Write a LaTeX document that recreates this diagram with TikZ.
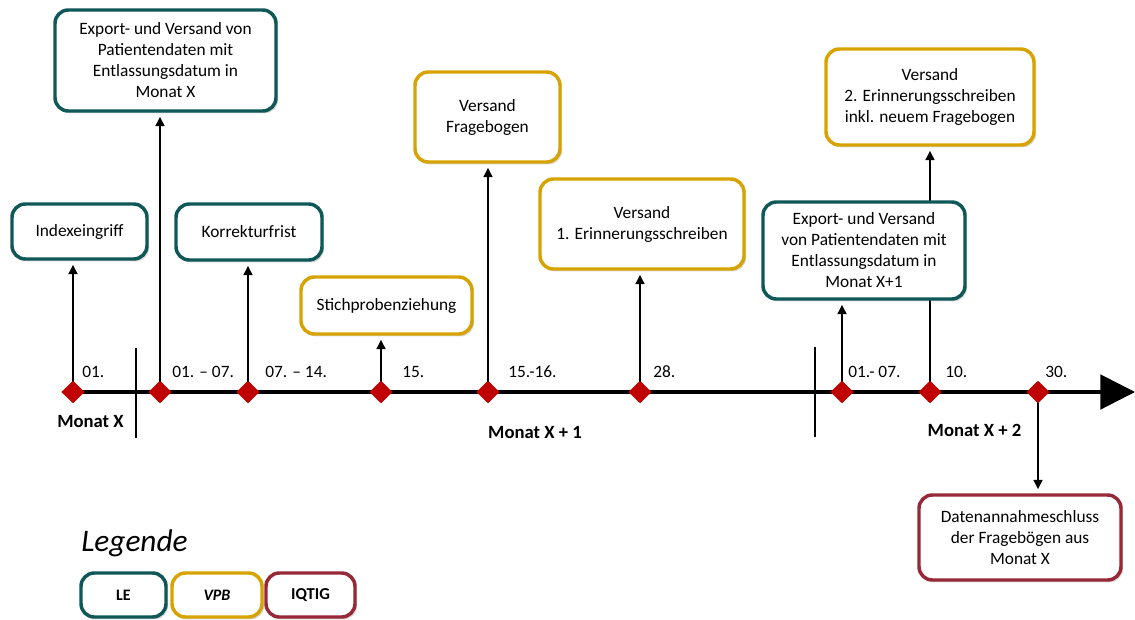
\documentclass[tikz,border=0pt]{standalone}
\usepackage{fontspec}
\setmainfont{Carlito}
\usetikzlibrary{shadows,arrows.meta,shapes.geometric}
\definecolor{leC}{RGB}{16,88,88}
\definecolor{vpbC}{RGB}{214,163,0}
\definecolor{iqC}{RGB}{150,40,56}
\definecolor{diaC}{RGB}{192,0,0}
\pgfdeclarelayer{bg}
\pgfsetlayers{bg,main}
\tikzset{
  box/.style={draw, line width=2.6pt, rounded corners=10pt, fill=white, align=center,
    inner sep=2pt, font=\fontsize{13}{15.75}\selectfont,
    drop shadow={opacity=0.3, shadow xshift=1.5pt, shadow yshift=-1.8pt}},
  lebox/.style={box, draw=leC},
  vpbbox/.style={box, draw=vpbC},
  iqbox/.style={box, draw=iqC},
  dia/.style={diamond, fill=diaC, inner sep=0pt, minimum width=17.5pt, minimum height=17pt},
  date/.style={anchor=base west, inner sep=0pt, font=\fontsize{13}{15}\selectfont},
  month/.style={anchor=base, inner sep=0pt, font=\fontsize{14}{16}\selectfont\bfseries},
  conn/.style={line width=2.1pt, -{Triangle[length=7pt,width=6.5pt]}, shorten >=3pt},
  divider/.style={line width=2.1pt},
}
\begin{document}
\begin{tikzpicture}[x=0.75pt,y=-0.75pt]
\path[use as bounding box] (0,0) rectangle (1135,619);

% diamonds
\foreach \n/\x in {d1/73,d2/160,d3/248,d4/381,d5/488,d6/640,d7/842,d8/930,d9/1038}
  \node[dia] (\n) at (\x,392) {};
\coordinate (axstart) at (73,392);
\coordinate (axend) at (1135,392);

% boxes
\node[lebox, minimum width=101.25pt, minimum height=41.25pt] (b1) at (79.5,231.5) {Indexeingriff};
\node[lebox, minimum width=165.75pt, minimum height=75.75pt] (b2) at (165.5,60.5) {Export- und Versand von\\Patientendaten mit\\Entlassungsdatum in\\Monat X};
\node[lebox, minimum width=109.5pt, minimum height=42pt] (b3) at (249,232) {Korrekturfrist};
\node[vpbbox, minimum width=128.25pt, minimum height=42.75pt] (b4) at (386.5,305.5) {Stichprobenziehung};
\node[vpbbox, minimum width=108.75pt, minimum height=67.5pt] (b5) at (487.5,117) {Versand\\Fragebogen};
\node[vpbbox, minimum width=153pt, minimum height=67.5pt] (b6) at (642,224) {Versand\\1. Erinnerungsschreiben};
\node[vpbbox, minimum width=156pt, minimum height=72pt] (b8) at (930,97) {Versand\\2. Erinnerungsschreiben\\inkl. neuem Fragebogen};
\node[lebox, minimum width=151.5pt, minimum height=72.75pt] (b7) at (864,250.5) {Export- und Versand\\von Patientendaten mit\\Entlassungsdatum in\\Monat X+1};
\node[iqbox, minimum width=151.5pt, minimum height=63.75pt] (b9) at (1020,537.5) {Datenannahmeschluss\\der Fragebögen aus\\Monat X};

% legend
\node[anchor=base west, inner sep=0pt, font=\fontsize{23.5}{26}\selectfont\itshape] (leg) at (81,551) {Legende};
\node[lebox, minimum width=63.75pt, minimum height=33pt, font=\fontsize{12}{14}\selectfont\bfseries] (l1) at (123.5,595) {LE};
\node[vpbbox, minimum width=67.5pt, minimum height=33pt, font=\fontsize{12}{14}\selectfont\bfseries\itshape] (l2) at (217,595) {VPB};
\node[iqbox, minimum width=66.75pt, minimum height=33pt, font=\fontsize{12.5}{14}\selectfont\bfseries] (l3) at (310.5,595) {IQTIG};

% dates
\node[date] (t1) at (82,377) {01.};
\node[date] (t2) at (172,377) {01. – 07.};
\node[date] (t3) at (265,377) {07. – 14.};
\node[date] (t4) at (402,377) {15.};
\node[date] (t5) at (508,377) {15.-16.};
\node[date] (t6) at (653,377) {28.};
\node[date] (t7) at (848,377) {01.- 07.};
\node[date] (t8) at (945,377) {10.};
\node[date] (t9) at (1045,377) {30.};

% months
\node[month] (m1) at (90.5,427) {Monat X};
\node[month] (m2) at (535,438) {Monat X + 1};
\node[month] (m3) at (974.5,436) {Monat X + 2};

% dividers
\coordinate (v1a) at (136,348); \coordinate (v1b) at (136,438);
\coordinate (v2a) at (815,347); \coordinate (v2b) at (815,437);

\begin{pgfonlayer}{bg}
\draw[line width=2.3pt, -{Triangle[length=26pt,width=26pt]}] (axstart) -- (axend);
\draw[divider] (v1a) -- (v1b);
\draw[divider] (v2a) -- (v2b);
\draw[conn] (d1.center) -- (d1 |- b1.south);
\draw[conn] (d2.center) -- (d2 |- b2.south);
\draw[conn] (d3.center) -- (d3 |- b3.south);
\draw[conn] (d4.center) -- (d4 |- b4.south);
\draw[conn] (d5.center) -- (d5 |- b5.south);
\draw[conn] (d6.center) -- (d6 |- b6.south);
\draw[conn] (d7.center) -- (d7 |- b7.south);
\draw[conn] (d8.center) -- (d8 |- b8.south);
\draw[conn] (d9.center) -- (d9 |- b9.north);
\end{pgfonlayer}
\end{tikzpicture}
\end{document}
